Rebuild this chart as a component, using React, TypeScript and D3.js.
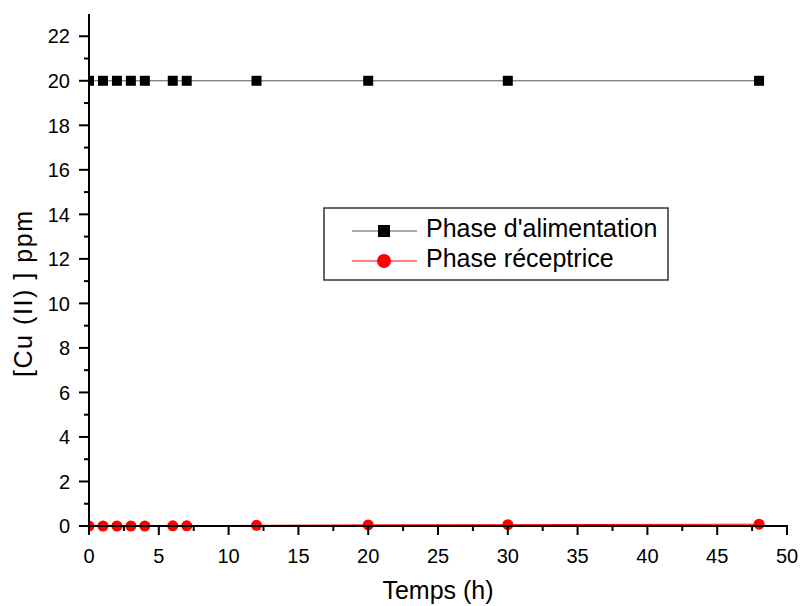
import React from "react";
import * as d3 from "d3";

const timeHours = [0, 1, 2, 3, 4, 6, 7, 12, 20, 30, 48];
const feedPhase = [20, 20, 20, 20, 20, 20, 20, 20, 20, 20, 20];
const receivingPhase = [0, 0, 0, 0, 0, 0.01, 0.01, 0.03, 0.05, 0.06, 0.08];
const xTicks = [0, 5, 10, 15, 20, 25, 30, 35, 40, 45, 50];
const yTicks = [0, 2, 4, 6, 8, 10, 12, 14, 16, 18, 20, 22];
const seriesNames = ["Phase d'alimentation", "Phase réceptrice"];

const width = 801;
const height = 606;
const margin = { top: 14, right: 14, bottom: 80, left: 89 };
const font = "Arial, 'Liberation Sans', sans-serif";

export default function App() {
  const x = d3
    .scaleLinear()
    .domain([0, 50])
    .range([margin.left, width - margin.right]);
  const y = d3
    .scaleLinear()
    .domain([0, 23])
    .range([height - margin.bottom, margin.top]);

  const line = d3
    .line<number>()
    .x((d, i) => x(timeHours[i]))
    .y((d) => y(d));

  const xMinor = d3.range(2.5, 50, 5);
  const yMinor = d3.range(1, 23, 2);
  const x0 = x(0);
  const y0 = y(0);

  return (
    <svg width={width} height={height} style={{ position: "absolute", left: 0, top: 0 }}>
      <rect width={width} height={height} fill="#fff" />
      <defs>
        <clipPath id="plot">
          <rect x={x0} y={0} width={width - x0} height={y0 + 10} />
        </clipPath>
      </defs>

      <g clipPath="url(#plot)">
        {/* feed phase */}
        <path d={line(feedPhase) || ""} fill="none" stroke="#555" strokeWidth={1} />
        {feedPhase.map((v, i) => (
          <rect
            key={"s" + i}
            x={x(timeHours[i]) - 5}
            y={y(v) - 5}
            width={10}
            height={10}
            fill="#000"
          />
        ))}
        {/* receiving phase */}
        <path d={line(receivingPhase) || ""} fill="none" stroke="#f00" strokeWidth={1} />
        {receivingPhase.map((v, i) => (
          <circle key={"c" + i} cx={x(timeHours[i])} cy={y(v)} r={5.5} fill="#f00" />
        ))}
      </g>

      {/* axes */}
      <g stroke="#000" strokeWidth={2}>
        <line x1={x0} x2={x0} y1={y(23)} y2={y0 + 1} />
        <line x1={x0 - 1} x2={x(50) + 1} y1={y0} y2={y0} />
        {yTicks.map((t) => (
          <line key={"yt" + t} x1={x0 - 10} x2={x0} y1={y(t)} y2={y(t)} />
        ))}
        {yMinor.map((t) => (
          <line key={"ym" + t} x1={x0 - 5} x2={x0} y1={y(t)} y2={y(t)} />
        ))}
        {xTicks.map((t) => (
          <line key={"xt" + t} x1={x(t)} x2={x(t)} y1={y0} y2={y0 + 9} />
        ))}
        {xMinor.map((t) => (
          <line key={"xm" + t} x1={x(t)} x2={x(t)} y1={y0} y2={y0 + 5} />
        ))}
      </g>

      <g fontFamily={font} fontSize={20} fill="#000">
        {yTicks.map((t) => (
          <text key={"yl" + t} x={x0 - 19} y={y(t)} dy="0.36em" textAnchor="end">
            {t}
          </text>
        ))}
        {xTicks.map((t) => (
          <text key={"xl" + t} x={x(t)} y={y0 + 37} textAnchor="middle">
            {t}
          </text>
        ))}
      </g>

      <text x={(x0 + x(50)) / 2} y={599} textAnchor="middle" fontFamily={font} fontSize={25}>
        Temps (h)
      </text>
      <text
        transform="translate(32, 294) rotate(-90)"
        textAnchor="middle"
        fontFamily={font}
        fontSize={25}
        textLength={166}
      >
        [Cu (II) ] ppm
      </text>

      {/* legend */}
      <g>
        <rect x={324} y={208} width={344} height={72} fill="#fff" stroke="#333" strokeWidth={1.5} />
        <line x1={352} x2={417} y1={231} y2={231} stroke="#555" strokeWidth={1} />
        <rect x={378} y={225} width={12} height={12} fill="#000" />
        <line x1={352} x2={417} y1={261} y2={261} stroke="#f00" strokeWidth={1} />
        <circle cx={384} cy={261} r={7} fill="#f00" />
        <g fontFamily={font} fontSize={25}>
          <text x={426} y={237}>
            {seriesNames[0]}
          </text>
          <text x={426} y={267}>
            {seriesNames[1]}
          </text>
        </g>
      </g>
    </svg>
  );
}
